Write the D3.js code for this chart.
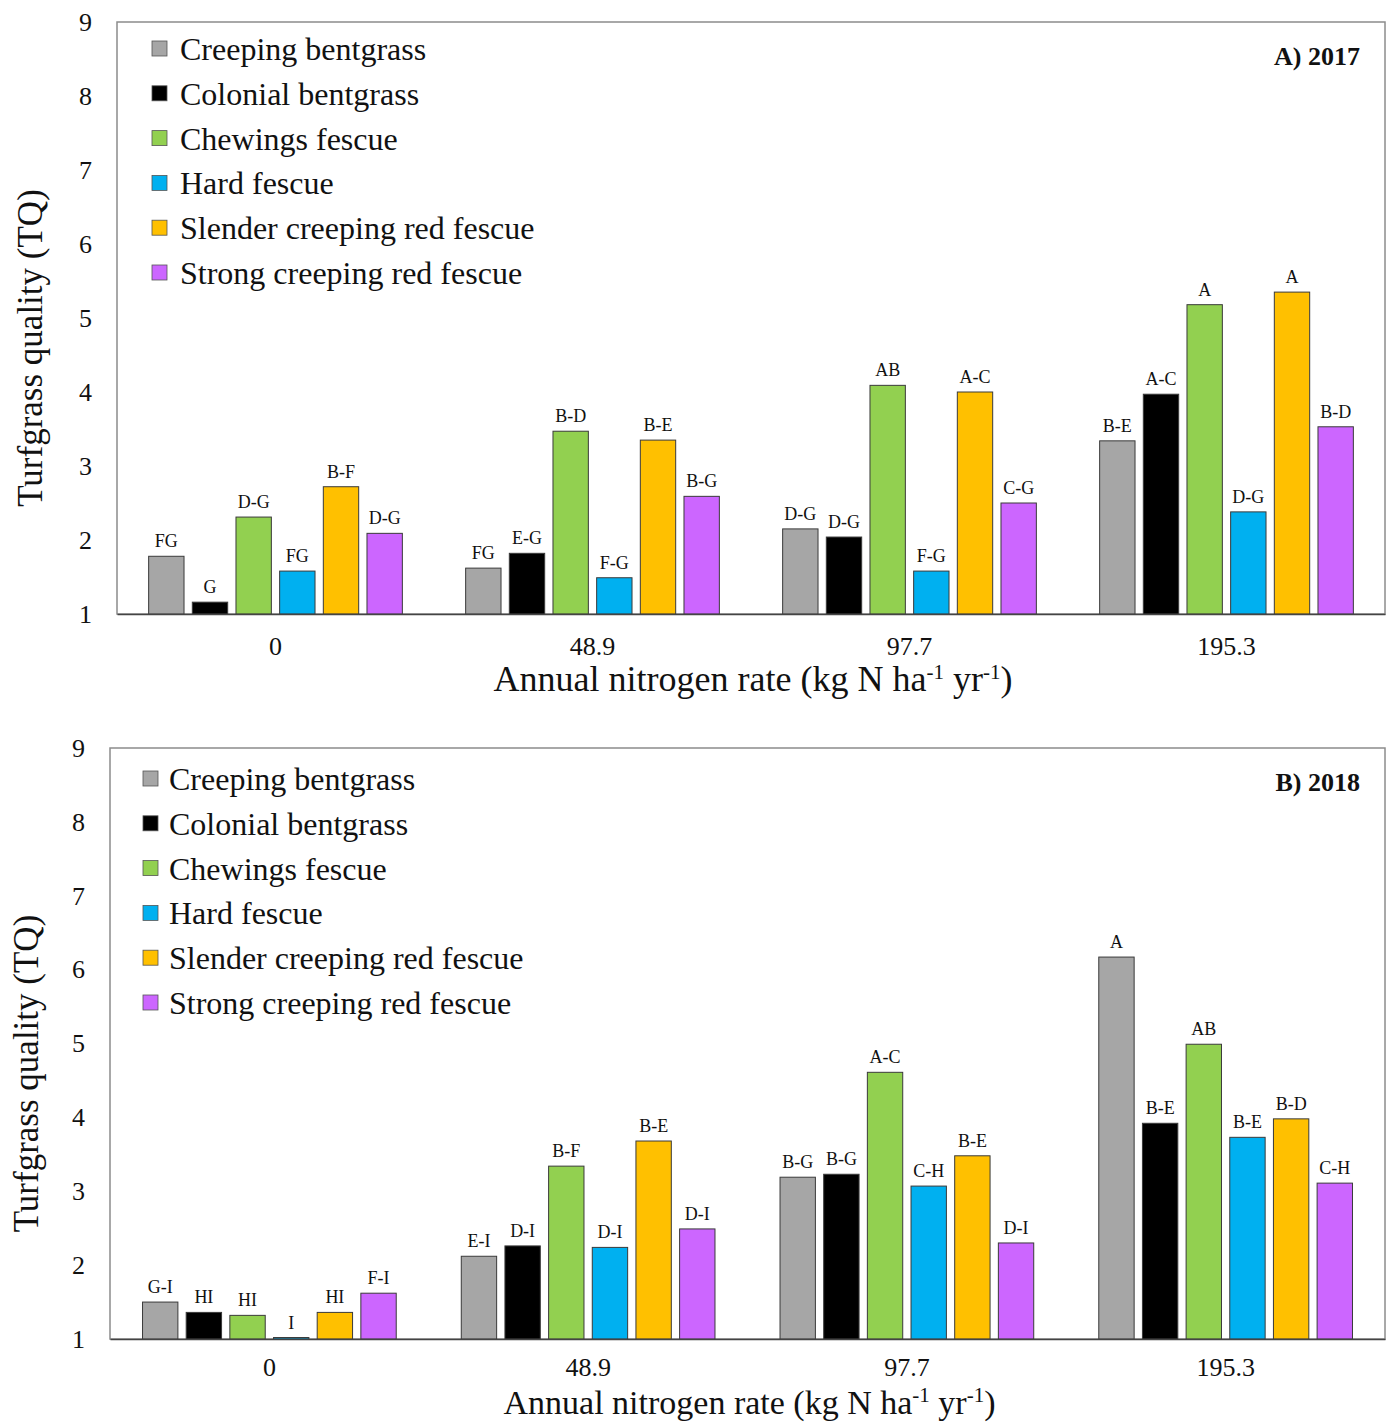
<!DOCTYPE html>
<html><head><meta charset="utf-8">
<script src="https://cdn.jsdelivr.net/npm/d3@7"></script>
<style>body{margin:0;background:#fff}</style>
</head><body><svg id="c" width="1390" height="1422"></svg>
<script>
const categories = ["0","48.9","97.7","195.3"];
const seriesNames = ["Creeping bentgrass","Colonial bentgrass","Chewings fescue","Hard fescue","Slender creeping red fescue","Strong creeping red fescue"];
const seriesColors = ["#a6a6a6","#000000","#92d050","#00b0f0","#ffc000","#cc66ff"];
const yTicks = [1,2,3,4,5,6,7,8,9];

// 2017 values (per series, across nitrogen rates)
const creeping2017 = [1.78,1.62,2.15,3.34];
const colonial2017 = [1.16,1.82,2.04,3.97];
const chewings2017 = [2.31,3.47,4.09,5.18];
const hard2017     = [1.58,1.49,1.58,2.38];
const slender2017  = [2.72,3.35,4.00,5.35];
const strong2017   = [2.09,2.59,2.50,3.53];
// 2017 letter groups
const creepingLet2017 = ["FG","FG","D-G","B-E"];
const colonialLet2017 = ["G","E-G","D-G","A-C"];
const chewingsLet2017 = ["D-G","B-D","AB","A"];
const hardLet2017     = ["FG","F-G","F-G","D-G"];
const slenderLet2017  = ["B-F","B-E","A-C","A"];
const strongLet2017   = ["D-G","B-G","C-G","B-D"];

// 2018 values
const creeping2018 = [1.50,2.12,3.19,6.17];
const colonial2018 = [1.36,2.26,3.23,3.92];
const chewings2018 = [1.32,3.34,4.61,4.99];
const hard2018     = [1.02,2.24,3.07,3.73];
const slender2018  = [1.36,3.68,3.48,3.98];
const strong2018   = [1.62,2.49,2.30,3.11];
// 2018 letter groups
const creepingLet2018 = ["G-I","E-I","B-G","A"];
const colonialLet2018 = ["HI","D-I","B-G","B-E"];
const chewingsLet2018 = ["HI","B-F","A-C","AB"];
const hardLet2018     = ["I","D-I","C-H","B-E"];
const slenderLet2018  = ["HI","B-E","B-E","B-D"];
const strongLet2018   = ["F-I","D-I","D-I","C-H"];

const FONT = "'Liberation Serif','Times New Roman',serif";
const svg = d3.select("#c");

function panel(cfg){
  const {left,right,top,bottom,vals,lets,title} = cfg;
  const g = svg.append("g");
  const y = d3.scaleLinear().domain([1,9]).range([bottom,top]);
  const x0 = d3.scaleBand().domain(categories).range([left,right]).padding(0);
  const bw = x0.bandwidth();
  const inner = 262;
  const x1 = d3.scaleBand().domain(seriesNames).range([(bw-inner)/2,(bw+inner)/2]).paddingInner(0.19).paddingOuter(0.095);

  // frame
  g.append("rect").attr("x",left).attr("y",top).attr("width",right-left).attr("height",bottom-top)
    .attr("fill","none").attr("stroke","#8c8c8c").attr("stroke-width",1.5);

  // y axis
  const ya = g.append("g").attr("transform",`translate(${left},0)`)
    .call(d3.axisLeft(y).tickValues(yTicks).tickSize(0).tickPadding(25).tickFormat(d3.format("d")));
  ya.select(".domain").remove();
  ya.selectAll("text").attr("font-family",FONT).attr("font-size",26).attr("fill","#111");

  // bars
  const data = [];
  categories.forEach((c,ci)=>{
    seriesNames.forEach((s,si)=>{
      data.push({c,s,si,v:vals[si][ci],l:lets[si][ci]});
    });
  });
  const bg = g.append("g");
  bg.selectAll("rect").data(data).join("rect")
    .attr("x",d=>x0(d.c)+x1(d.s))
    .attr("y",d=>y(d.v))
    .attr("width",x1.bandwidth())
    .attr("height",d=>y(1)-y(d.v))
    .attr("fill",d=>seriesColors[d.si])
    .attr("stroke","#3a3a3a").attr("stroke-width",1);
  bg.selectAll("text").data(data).join("text")
    .attr("x",d=>x0(d.c)+x1(d.s)+x1.bandwidth()/2)
    .attr("y",d=>y(d.v)-9)
    .attr("text-anchor","middle")
    .attr("font-family",FONT).attr("font-size",18).attr("fill","#111")
    .text(d=>d.l);

  // x axis
  const xa = g.append("g").attr("transform",`translate(0,${bottom})`)
    .call(d3.axisBottom(x0).tickSize(0).tickPadding(cfg.catPad));
  xa.select(".domain").attr("stroke","#444").attr("stroke-width",1.5);
  xa.selectAll("text").attr("font-family",FONT).attr("font-size",26).attr("fill","#111");

  // x title
  const xt = g.append("text").attr("x",(left+right)/2+2).attr("y",bottom+cfg.xtDy)
    .attr("text-anchor","middle").attr("font-family",FONT).attr("font-size",cfg.xtSize).attr("fill","#111");
  xt.append("tspan").text("Annual nitrogen rate (kg N ha");
  xt.append("tspan").attr("dy",-12).attr("font-size",21).text("-1");
  xt.append("tspan").attr("dy",12).text(" yr");
  xt.append("tspan").attr("dy",-12).attr("font-size",21).text("-1");
  xt.append("tspan").attr("dy",12).text(")");

  // y title
  g.append("text").attr("transform",`translate(${cfg.ytX},${(top+bottom)/2+30}) rotate(-90)`)
    .attr("text-anchor","middle").attr("font-family",FONT).attr("font-size",35).attr("fill","#111")
    .text("Turfgrass quality (TQ)");

  // panel label
  g.append("text").attr("x",right-25).attr("y",top+43).attr("text-anchor","end")
    .attr("font-family",FONT).attr("font-size",26).attr("font-weight","bold").attr("fill","#111")
    .text(title);

  // legend
  const lg = g.append("g").attr("transform",`translate(${left+cfg.legDx},${top+cfg.legDy})`);
  const items = lg.selectAll("g").data(seriesNames).join("g")
    .attr("transform",(d,i)=>`translate(0,${i*44.8})`);
  items.append("rect").attr("x",0).attr("y",-8).attr("width",15).attr("height",15)
    .attr("fill",(d,i)=>seriesColors[i]).attr("stroke","#555").attr("stroke-width",0.8);
  items.append("text").attr("x",cfg.legTx).attr("y",11).attr("font-family",FONT).attr("font-size",32)
    .attr("fill","#111").text(d=>d);
}

panel({left:117,right:1385,top:22,bottom:614,title:"A) 2017",ytX:42,legDx:35,legDy:27,legTx:28,xtDy:77,xtSize:36,catPad:23,
  vals:[creeping2017,colonial2017,chewings2017,hard2017,slender2017,strong2017],
  lets:[creepingLet2017,colonialLet2017,chewingsLet2017,hardLet2017,slenderLet2017,strongLet2017]});
panel({left:110,right:1385,top:748,bottom:1339,title:"B) 2018",ytX:38,legDx:33,legDy:31,legTx:26,xtDy:75,xtSize:34,catPad:19,
  vals:[creeping2018,colonial2018,chewings2018,hard2018,slender2018,strong2018],
  lets:[creepingLet2018,colonialLet2018,chewingsLet2018,hardLet2018,slenderLet2018,strongLet2018]});
</script></body></html>
